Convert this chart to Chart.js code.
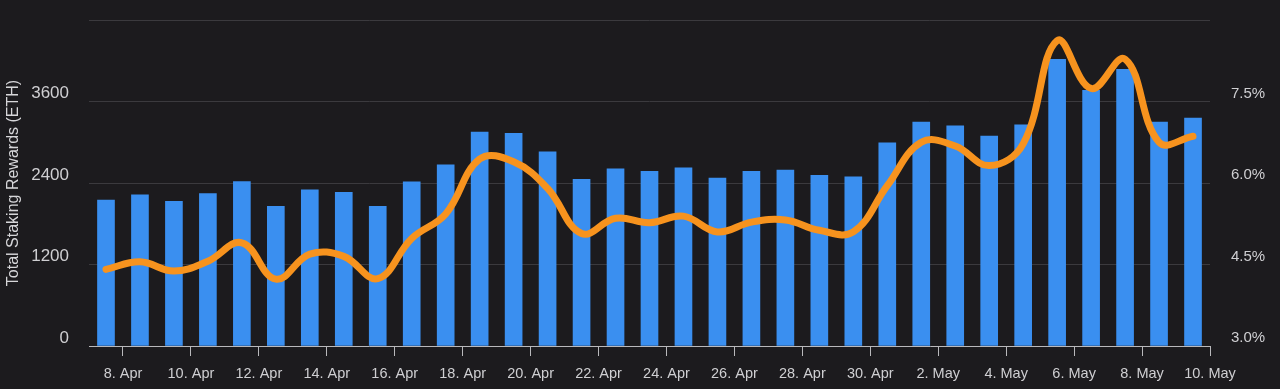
<!DOCTYPE html>
<html>
<head>
<meta charset="utf-8">
<script src="https://cdn.jsdelivr.net/npm/chart.js@4"></script>
<style>
  html, body { margin: 0; padding: 0; background: #1c1b1e; overflow: hidden; }
  canvas { display: block; }
</style>
</head>
<body>
<canvas id="stakingChart" width="1280" height="389"></canvas>
<script>
// daily values, 7 Apr .. 9 May
const days = ['7. Apr', '8. Apr', '9. Apr', '10. Apr', '11. Apr', '12. Apr', '13. Apr', '14. Apr',
  '15. Apr', '16. Apr', '17. Apr', '18. Apr', '19. Apr', '20. Apr', '21. Apr', '22. Apr',
  '23. Apr', '24. Apr', '25. Apr', '26. Apr', '27. Apr', '28. Apr', '29. Apr', '30. Apr',
  '1. May', '2. May', '3. May', '4. May', '5. May', '6. May', '7. May', '8. May', '9. May'];

const rewards = [2150, 2225, 2130, 2245, 2420, 2055, 2300, 2262, 2056, 2418, 2666, 3150,
  3130, 2858, 2455, 2607, 2573, 2625, 2473, 2570, 2592, 2514, 2492, 2992, 3298, 3243,
  3092, 3258, 4220, 3765, 4073, 3298, 3357];

const apr = [4.41, 4.55, 4.38, 4.56, 4.90, 4.23, 4.69, 4.65, 4.24, 4.98, 5.43, 6.44,
  6.39, 5.90, 5.07, 5.35, 5.27, 5.39, 5.10, 5.28, 5.32, 5.13, 5.10, 5.95, 6.75, 6.68,
  6.32, 6.72, 8.62, 7.74, 8.28, 6.75, 6.86];

// x ticks sit on day boundaries, every second day
const tickLabels = ['8. Apr', '10. Apr', '12. Apr', '14. Apr', '16. Apr', '18. Apr', '20. Apr',
  '22. Apr', '24. Apr', '26. Apr', '28. Apr', '30. Apr', '2. May', '4. May', '6. May', '8. May', '10. May'];

const tickCol = '#cfcfd2';
const gridCol = '#3b3a3e';
const fontFam = '"Liberation Sans", Arial, sans-serif';

// fixed axis width, and no extra room asked for by the tick labels
const fixWidth = (w) => (scale) => {
  scale.width = w;
  scale.paddingTop = 0;
  scale.paddingBottom = 0;
};

new Chart(document.getElementById('stakingChart'), {
  type: 'bar',
  data: {
    datasets: [
      {
        type: 'line',
        label: 'APR',
        data: apr.map((v, i) => ({ x: i + 0.5, y: v })),
        yAxisID: 'y1',
        borderColor: '#f7931e',
        borderWidth: 7,
        borderCapStyle: 'round',
        borderJoinStyle: 'round',
        pointRadius: 0,
        tension: 0.4,
        order: 0
      },
      {
        label: 'Total Staking Rewards (ETH)',
        data: rewards.map((v, i) => ({ x: i + 0.5, y: v })),
        yAxisID: 'y',
        backgroundColor: '#3a8ff0',
        barThickness: 17,
        order: 1
      }
    ]
  },
  options: {
    responsive: false,
    animation: false,
    devicePixelRatio: 1,
    layout: { padding: { top: 20, left: 0, right: 0, bottom: 0 } },
    plugins: { legend: { display: false }, tooltip: { enabled: false } },
    scales: {
      x: {
        type: 'linear',
        min: 0,
        max: days.length,
        offset: false,
        afterBuildTicks: (scale) => {
          scale.ticks = tickLabels.map((t, i) => ({ value: 1 + 2 * i }));
        },
        afterFit: (scale) => { scale.height = 43; },
        grid: {
          offset: false,
          drawOnChartArea: false,
          drawTicks: true,
          tickLength: 10,
          tickColor: '#b9b9bc'
        },
        border: { display: true, color: '#b9b9bc', width: 1 },
        ticks: {
          autoSkip: false,
          maxRotation: 0,
          padding: 9,
          color: tickCol,
          font: { family: fontFam, size: 14.5 },
          callback: (value, index) => tickLabels[index]
        }
      },
      y: {
        position: 'left',
        min: 0,
        max: 4800,
        afterFit: fixWidth(89),
        grid: { color: gridCol, drawTicks: false },
        border: { display: false },
        ticks: {
          stepSize: 1200,
          padding: 20,
          labelOffset: -8,
          color: tickCol,
          font: { family: fontFam, size: 17 },
          callback: (v) => (v >= 4800 ? '' : String(v))
        },
        title: {
          display: true,
          text: 'Total Staking Rewards (ETH)',
          color: '#d6d6d9',
          padding: { top: 4, bottom: 0 },
          font: { family: fontFam, size: 16 }
        }
      },
      y1: {
        position: 'right',
        min: 3,
        max: 9,
        afterFit: fixWidth(70),
        grid: { drawOnChartArea: false, drawTicks: false },
        border: { display: false },
        ticks: {
          stepSize: 1.5,
          padding: 21,
          labelOffset: -8,
          color: tickCol,
          font: { family: fontFam, size: 15 },
          callback: (v) => (v >= 9 ? '' : v.toFixed(1) + '%')
        }
      }
    }
  }
});
</script>
</body>
</html>
